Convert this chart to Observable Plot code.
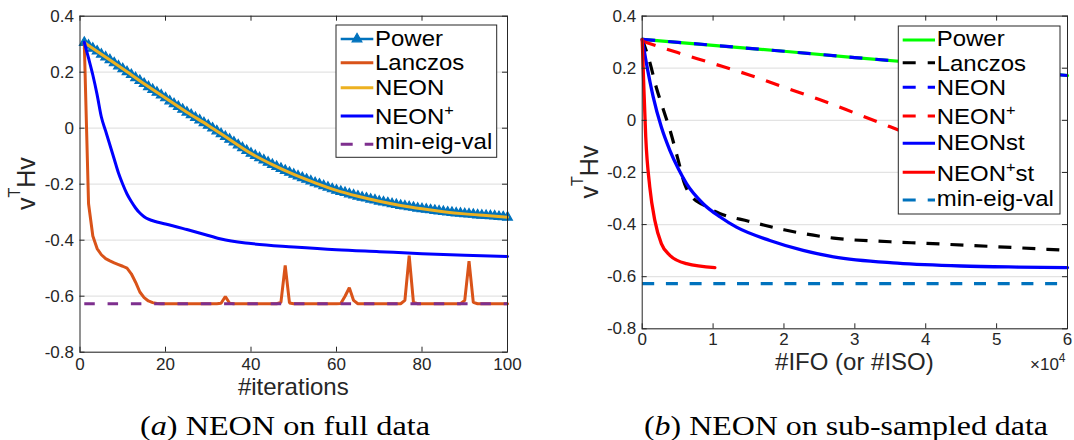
<!DOCTYPE html>
<html><head><meta charset="utf-8">
<script src="https://cdn.jsdelivr.net/npm/d3@7"></script>
<script src="https://cdn.jsdelivr.net/npm/@observablehq/plot@0.6"></script>
<style>
html,body{margin:0;padding:0;background:#fff;}
#root{width:1074px;height:440px;overflow:hidden;position:relative;background:#fff;}
#root svg{position:absolute;top:0;background:transparent;}
</style></head><body><div id="root"></div>
<script>
// ---------- data ----------
const yTicks = [-0.8, -0.6, -0.4, -0.2, 0, 0.2, 0.4];
const xTicksFull = [0, 20, 40, 60, 80, 100];
const xTicksSub = [0, 1, 2, 3, 4, 5, 6];

// (a) full data, per iteration 1..100
const powerFull = [
  0.306, 0.296, 0.285, 0.275, 0.264, 0.254, 0.244, 0.233, 0.222, 0.212,
  0.201, 0.191, 0.180, 0.170, 0.159, 0.148, 0.138, 0.128, 0.118, 0.108,
  0.097, 0.087, 0.077, 0.067, 0.057, 0.048, 0.038, 0.029, 0.019, 0.010,
  0.000, -0.010, -0.020, -0.030, -0.040, -0.050, -0.060, -0.070, -0.080, -0.090,
  -0.098, -0.106, -0.114, -0.122, -0.130, -0.137, -0.144, -0.151, -0.158, -0.165,
  -0.171, -0.177, -0.183, -0.189, -0.195, -0.200, -0.206, -0.211, -0.217, -0.222,
  -0.226, -0.230, -0.235, -0.239, -0.243, -0.247, -0.250, -0.254, -0.257, -0.261,
  -0.264, -0.267, -0.270, -0.273, -0.276, -0.278, -0.281, -0.283, -0.286, -0.288,
  -0.290, -0.292, -0.294, -0.296, -0.298, -0.300, -0.301, -0.303, -0.304, -0.306,
  -0.307, -0.308, -0.310, -0.311, -0.312, -0.313, -0.314, -0.316, -0.317, -0.318
];
const lanczosFull = [
  0.306, -0.270, -0.385, -0.430, -0.452, -0.466, -0.474, -0.481, -0.487, -0.493,
  -0.500, -0.520, -0.550, -0.585, -0.605, -0.617, -0.623, -0.626, -0.627, -0.627,
  -0.627, -0.627, -0.627, -0.627, -0.627, -0.627, -0.627, -0.627, -0.627, -0.627,
  -0.627, -0.627, -0.625, -0.601, -0.625, -0.627, -0.627, -0.627, -0.627, -0.627,
  -0.627, -0.627, -0.627, -0.627, -0.627, -0.627, -0.622, -0.490, -0.624, -0.627,
  -0.627, -0.627, -0.627, -0.627, -0.627, -0.627, -0.627, -0.627, -0.627, -0.627,
  -0.626, -0.600, -0.570, -0.615, -0.627, -0.627, -0.627, -0.627, -0.627, -0.627,
  -0.627, -0.627, -0.627, -0.627, -0.627, -0.615, -0.455, -0.622, -0.627, -0.627,
  -0.627, -0.627, -0.627, -0.627, -0.627, -0.627, -0.627, -0.627, -0.627, -0.615,
  -0.475, -0.622, -0.627, -0.627, -0.627, -0.627, -0.627, -0.627, -0.627, -0.627
];
const neonFullIter = [1, 5, 10, 15, 20, 25, 30, 35, 40, 45, 50, 55, 60, 65, 70, 75, 80, 85, 90, 95, 100];
const neonFull = [0.306, 0.264, 0.212, 0.159, 0.108, 0.057, 0.010, -0.040, -0.090, -0.130, -0.165,
  -0.195, -0.222, -0.243, -0.261, -0.276, -0.288, -0.298, -0.306, -0.312, -0.318];
const neonPlusFullIter = [1, 2, 3, 4, 5, 6, 7, 8, 9, 10, 11, 12, 13, 14, 15, 16, 18, 20, 25, 30, 33, 40, 50, 60, 70, 80, 90, 100];
const neonPlusFull = [0.307, 0.250, 0.190, 0.120, 0.040, -0.010, -0.060, -0.110, -0.160, -0.200, -0.235,
  -0.262, -0.285, -0.303, -0.316, -0.325, -0.335, -0.342, -0.362, -0.383, -0.396, -0.412, -0.424,
  -0.434, -0.441, -0.448, -0.454, -0.458];
const minEigFullIter = [1, 100];
const minEigFull = [-0.627, -0.627];

// (b) sub-sampled data, x in units of 10^4 IFO
const powerSubX = [0, 1, 2, 3, 4, 5, 6];
const powerSub = [0.311, 0.288, 0.265, 0.241, 0.218, 0.195, 0.172];
const neonSubX = [0, 1, 2, 3, 4, 5, 6];
const neonSub = [0.311, 0.288, 0.265, 0.241, 0.218, 0.195, 0.172];
const lanczosSubX = [0, 0.1, 0.2, 0.3, 0.4, 0.5, 0.6, 0.7, 0.85, 1.1, 1.5, 2, 2.7, 3.5, 4, 5, 6];
const lanczosSub = [0.311, 0.230, 0.125, 0.040, -0.045, -0.145, -0.245, -0.293, -0.323, -0.358,
  -0.387, -0.420, -0.452, -0.466, -0.472, -0.485, -0.499];
const neonPlusSubX = [0, 0.5, 1, 1.5, 2, 2.5, 3, 3.5, 4, 4.5, 5];
const neonPlusSub = [0.304, 0.260, 0.218, 0.175, 0.127, 0.080, 0.028, -0.025, -0.078, -0.130, -0.180];
const neonStSubX = [0, 0.06, 0.155, 0.27, 0.39, 0.51, 0.625, 0.86, 1.1, 1.33, 1.8, 2.27, 2.7, 3.6, 4.5, 5.3, 6];
const neonStSub = [0.311, 0.218, 0.090, -0.026, -0.115, -0.186, -0.243, -0.320, -0.371, -0.410, -0.461,
  -0.499, -0.524, -0.548, -0.559, -0.563, -0.565];
const neonPlusStSubX = [0, 0.023, 0.05, 0.107, 0.178, 0.27, 0.39, 0.625, 1.025];
const neonPlusStSub = [0.311, 0.128, -0.064, -0.256, -0.384, -0.473, -0.518, -0.550, -0.565];
const minEigSubX = [0, 6];
const minEigSub = [-0.627, -0.627];

// ---------- helpers ----------
const AX = "#262626";
const pts = (xs, ys) => xs.map((x, i) => ({x, y: ys[i]}));
const fmtY = d => d === 0 ? "0" : d.toFixed(1);
const fmtX = d => String(d);
const iterFull = powerFull.map((_, i) => i + 1);

function frameMarks(xDom, xTicks, pad) {
  const [x0, x1] = xDom, y0 = -0.8, y1 = 0.4;
  return [
    Plot.frame({stroke: AX, strokeWidth: 1}),
    Plot.ruleX(xTicks, {x: d => d, y1: y0, y2: y0, insetTop: -5, stroke: AX, strokeWidth: 1}),
    Plot.ruleX(xTicks, {x: d => d, y1: y1, y2: y1, insetBottom: -5, stroke: AX, strokeWidth: 1}),
    Plot.ruleY(yTicks, {y: d => d, x1: x0, x2: x0, insetRight: -5, stroke: AX, strokeWidth: 1}),
    Plot.ruleY(yTicks, {y: d => d, x1: x1, x2: x1, insetLeft: -5, stroke: AX, strokeWidth: 1}),
    Plot.axisX({ticks: xTicks, tickSize: 0, tickPadding: pad, label: null, tickFormat: fmtX, fill: AX}),
    Plot.axisY({ticks: yTicks, tickSize: 0, tickPadding: 6, label: null, tickFormat: fmtY, fill: AX})
  ];
}
const baseStyle = {fontFamily: "'Liberation Sans', Arial, sans-serif", fontSize: "17px", color: AX, background: "transparent", overflow: "visible"};
const grid = Plot.gridY({ticks: yTicks, stroke: "#e3e3e3", strokeOpacity: 1, strokeWidth: 1.2});

// ---------- panel (a) ----------
const powerPts = pts(iterFull, powerFull);
const left = Plot.plot({
  width: 540, height: 400,
  marginLeft: 79.5, marginRight: 33, marginTop: 15.7, marginBottom: 48.3,
  x: {domain: [0, 100]}, y: {domain: [-0.8, 0.4]},
  style: baseStyle,
  marks: [
    grid,
    Plot.line(powerPts, {x: "x", y: "y", stroke: "#0072BD", strokeWidth: 2}),
    Plot.dot(powerPts, {x: "x", y: "y", symbol: "triangle", r: 3.6, fill: "#0072BD", stroke: "#0072BD", strokeWidth: 1.2}),
    Plot.line(pts(iterFull, lanczosFull), {x: "x", y: "y", stroke: "#D95319", strokeWidth: 3, strokeLinejoin: "miter"}),
    Plot.line(pts(neonFullIter, neonFull), {x: "x", y: "y", stroke: "#EDB120", strokeWidth: 3, curve: "monotone-x"}),
    Plot.line(pts(neonPlusFullIter, neonPlusFull), {x: "x", y: "y", stroke: "#0000FF", strokeWidth: 3, curve: "monotone-x"}),
    Plot.line(pts(minEigFullIter, minEigFull), {x: "x", y: "y", stroke: "#7E2F8E", strokeWidth: 3, strokeDasharray: "10.5,12.8", strokeLinecap: "butt"}),
    ...frameMarks([0, 100], xTicksFull, 6)
  ]
});
left.style.left = "0px";

// ---------- panel (b) ----------
const right = Plot.plot({
  width: 534, height: 400,
  marginLeft: 101.7, marginRight: 7, marginTop: 15.6, marginBottom: 71.7,
  x: {domain: [0, 6]}, y: {domain: [-0.8, 0.4]},
  style: baseStyle,
  marks: [
    grid,
    Plot.line(pts(powerSubX, powerSub), {x: "x", y: "y", stroke: "#00FF00", strokeWidth: 3.2}),
    Plot.line(pts(lanczosSubX, lanczosSub), {x: "x", y: "y", stroke: "#000000", strokeWidth: 3.2, curve: "monotone-x", strokeDasharray: "13,11", strokeLinecap: "butt"}),
    Plot.line(pts(neonSubX, neonSub), {x: "x", y: "y", stroke: "#0000FF", strokeWidth: 3.2, strokeDasharray: "13,13", strokeLinecap: "butt"}),
    Plot.line(pts(neonPlusSubX, neonPlusSub), {x: "x", y: "y", stroke: "#FF0000", strokeWidth: 3.2, curve: "monotone-x", strokeDasharray: "14,12", strokeLinecap: "butt"}),
    Plot.line(pts(neonStSubX, neonStSub), {x: "x", y: "y", stroke: "#0000FF", strokeWidth: 3.3, curve: "monotone-x"}),
    Plot.line(pts(neonPlusStSubX, neonPlusStSub), {x: "x", y: "y", stroke: "#FF0000", strokeWidth: 3.3, curve: "monotone-x"}),
    Plot.line(pts(minEigSubX, minEigSub), {x: "x", y: "y", stroke: "#0072BD", strokeWidth: 3.2, strokeDasharray: "12,11.7", strokeLinecap: "butt"}),
    ...frameMarks([0, 6], xTicksSub, 4)
  ]
});
right.style.left = "540px";

const root = document.getElementById("root");
root.appendChild(left);
root.appendChild(right);

// ---------- overlay: labels, legends, captions ----------
const svg = d3.create("svg").attr("width", 1074).attr("height", 440)
  .style("left", "0px").style("font-family", "'Liberation Sans', Arial, sans-serif");

function addParts(t, parts) {
  let raised = 0;
  for (const p of parts) {
    const s = t.append("tspan").text(p.t);
    if (p.sup) { s.attr("dy", -p.sup).attr("font-size", p.fs); raised += p.sup; }
    else if (raised) { s.attr("dy", raised); raised = 0; }
    if (p.italic) s.attr("font-style", "italic");
  }
}
function richText(g, parts, attrs) {
  const t = g.append("text");
  for (const [k, v] of Object.entries(attrs)) t.attr(k, v);
  addParts(t, parts);
  return t;
}

// axis titles
svg.append("text").attr("x", 293.3).attr("y", 395).attr("text-anchor", "middle")
  .attr("font-size", 24).attr("fill", AX).text("#iterations");
svg.append("text").attr("x", 854.4).attr("y", 370).attr("text-anchor", "middle")
  .attr("font-size", 24).attr("fill", AX).text("#IFO (or #ISO)");
richText(svg, [{t: "\u00d710"}, {t: "4", sup: 8, fs: 12}],
  {x: 1030, y: 369.5, "font-size": 17, fill: AX});
const ylab = [{t: "v"}, {t: "T", sup: 15, fs: 16}, {t: "Hv"}];
richText(svg, ylab, {transform: "translate(35,183.7) rotate(-90)", "text-anchor": "middle", "font-size": 25, fill: AX});
richText(svg, ylab, {transform: "translate(597.8,172) rotate(-90)", "text-anchor": "middle", "font-size": 25, fill: AX});

// legends
const LFS = 22, LSX = 1.09;
function legend(box, sw, tx, entries) {
  const g = svg.append("g");
  g.append("rect").attr("x", box[0]).attr("y", box[1]).attr("width", box[2] - box[0]).attr("height", box[3] - box[1])
    .attr("fill", "#fff").attr("stroke", AX).attr("stroke-width", 1);
  for (const e of entries) {
    g.append("line").attr("x1", sw[0]).attr("x2", sw[1]).attr("y1", e.sy).attr("y2", e.sy)
      .attr("stroke", e.color).attr("stroke-width", e.w || 3)
      .attr("stroke-dasharray", e.dash || null);
    if (e.marker) {
      g.append("path").attr("d", d3.symbol(d3.symbolTriangle, Math.PI * 3.6 * 3.6)())
        .attr("transform", `translate(${(sw[0] + sw[1]) / 2},${e.sy})`)
        .attr("fill", e.color).attr("stroke", e.color).attr("stroke-width", 1.2);
    }
    richText(g, e.parts, {x: 0, y: e.by, "font-size": LFS, fill: "#000",
      transform: `translate(${tx},0) scale(${LSX},1)`});
  }
}
const P = (...a) => a.map(s => s === "+" ? {t: "+", sup: 9, fs: 15} : {t: s});

legend([336, 25, 496.7, 157.3], [340.7, 373.3], 375, [
  {parts: P("Power"), color: "#0072BD", w: 2.5, marker: true, sy: 39, by: 45.8},
  {parts: P("Lanczos"), color: "#D95319", sy: 62.7, by: 70.5},
  {parts: P("NEON"), color: "#EDB120", sy: 87.7, by: 95.2},
  {parts: P("NEON", "+"), color: "#0000FF", sy: 116, by: 124.5},
  {parts: P("min-eig-val"), color: "#7E2F8E", dash: "12,12", sy: 144.3, by: 149.3}
]);
legend([898.3, 26, 1060, 214], [902.7, 935], 936.7, [
  {parts: P("Power"), color: "#00FF00", sy: 40, by: 46},
  {parts: P("Lanczos"), color: "#000000", dash: "13,12", sy: 62.7, by: 70.7},
  {parts: P("NEON"), color: "#0000FF", dash: "13,12", sy: 87.3, by: 95.4},
  {parts: P("NEON", "+"), color: "#FF0000", dash: "13,12", sy: 116, by: 124.5},
  {parts: P("NEONst"), color: "#0000FF", sy: 143.3, by: 150},
  {parts: P("NEON", "+", "st"), color: "#FF0000", sy: 172.3, by: 181.5},
  {parts: P("min-eig-val"), color: "#0072BD", dash: "13,12", sy: 200, by: 206.5}
]);

// captions
const capStyle = {"font-family": "'Liberation Serif', 'Times New Roman', serif", "font-size": 28, fill: "#000", lengthAdjust: "spacingAndGlyphs"};
richText(svg, [{t: "("}, {t: "a", italic: true}, {t: ") NEON on full data"}],
  Object.assign({x: 140, y: 435, textLength: 290}, capStyle));
richText(svg, [{t: "("}, {t: "b", italic: true}, {t: ") NEON on sub-sampled data"}],
  Object.assign({x: 644, y: 435, textLength: 404}, capStyle));

root.appendChild(svg.node());
</script></body></html>
